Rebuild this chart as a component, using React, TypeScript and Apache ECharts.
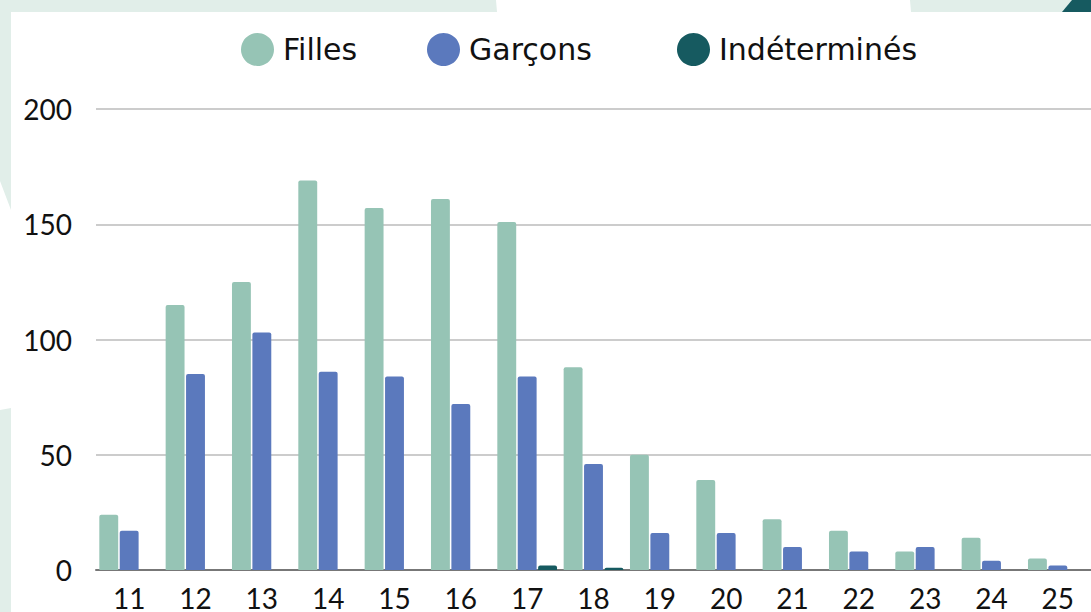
import React, { useEffect, useRef } from "react";
import * as echarts from "echarts";

const categories = ["11", "12", "13", "14", "15", "16", "17", "18", "19", "20", "21", "22", "23", "24", "25"];
const filles = [24, 115, 125, 169, 157, 161, 151, 88, 50, 39, 22, 17, 8, 14, 5];
const garcons = [17, 85, 103, 86, 84, 72, 84, 46, 16, 16, 10, 8, 10, 4, 2];
const indetermines = [0, 0, 0, 0, 0, 0, 2, 1, 0, 0, 0, 0, 0, 0, 0];
const seriesNames = ["Filles", "Garçons", "Indéterminés"];
const yTicks = [0, 50, 100, 150, 200];

const COLORS = ["#96c4b5", "#5b79bd", "#165a60"];
const LIGHT = "#e1eee9";
const FONT = "Lato, 'Noto Sans', sans-serif";
const LEGEND_FONT = "'DejaVu Sans', sans-serif";
const legendLefts = [236, 422, 672];

export default function App() {
  const ref = useRef<HTMLDivElement>(null);
  useEffect(() => {
    document.body.style.margin = "0";
    const chart = echarts.init(ref.current!, null, { renderer: "svg" });
    const values = [filles, garcons, indetermines];
    chart.setOption({
      animation: false,
      backgroundColor: "#ffffff",
      textStyle: { fontFamily: FONT },
      graphic: [
        {
          type: "polygon",
          silent: true,
          z: -10,
          shape: { points: [[0, 0], [496, 0], [497, 12], [11, 12], [11, 210], [0, 181]] },
          style: { fill: LIGHT },
        },
        {
          type: "polygon",
          silent: true,
          z: -10,
          shape: { points: [[0, 410], [11, 408], [11, 612], [0, 612]] },
          style: { fill: LIGHT },
        },
        {
          type: "polygon",
          silent: true,
          z: -10,
          shape: { points: [[910, 0], [1091, 0], [1091, 12], [911, 12]] },
          style: { fill: LIGHT },
        },
        {
          type: "polygon",
          silent: true,
          z: -9,
          shape: { points: [[1072, 0], [1091, 0], [1091, 12], [1062, 12]] },
          style: { fill: "#165a60" },
        },
      ],
      legend: seriesNames.map((name, i) => ({
        left: legendLefts[i],
        top: 28,
        icon: "circle",
        itemWidth: 33,
        itemHeight: 33,
        textStyle: { fontSize: 30, color: "#111", fontFamily: LEGEND_FONT, padding: [0, 0, 0, 4] },
        data: [name],
      })),
      grid: { left: 96, right: 0, top: 109, bottom: 42, containLabel: false },
      xAxis: {
        type: "category",
        data: categories,
        axisTick: { show: false },
        axisLine: { lineStyle: { color: "#777", width: 2 } },
        axisLabel: { fontSize: 28, color: "#111", margin: 14, fontFamily: FONT },
      },
      yAxis: {
        type: "value",
        min: yTicks[0],
        max: yTicks[yTicks.length - 1],
        interval: 50,
        axisLine: { show: false },
        axisTick: { show: false },
        axisLabel: { fontSize: 28, color: "#111", margin: 24, fontFamily: FONT },
        splitLine: { lineStyle: { color: "#cccccc", width: 2 } },
      },
      series: seriesNames.map((name, i) => ({
        name,
        type: "bar",
        data: values[i],
        barGap: "8%",
        barCategoryGap: "10%",
        itemStyle: { color: COLORS[i], borderRadius: [2, 2, 0, 0] },
      })),
    });
    return () => chart.dispose();
  }, []);
  return <div ref={ref} style={{ width: 1091, height: 612 }} />;
}
